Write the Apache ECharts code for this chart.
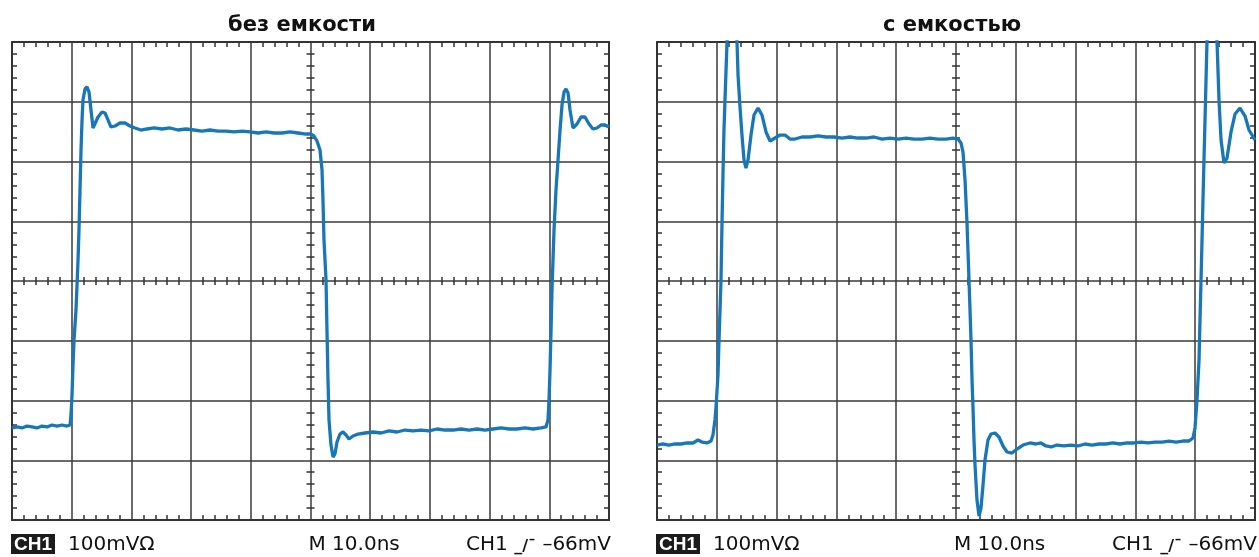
<!DOCTYPE html>
<html><head><meta charset="utf-8">
<script src="https://cdn.jsdelivr.net/npm/echarts@6/dist/echarts.min.js"></script>
<style>html,body{margin:0;padding:0;background:#fff}#c{width:1259px;height:557px}</style>
</head><body><div id="c"></div>
<script>
// ---- labels ----
const panelTitles = ['без емкости', 'с емкостью'];
const chBadge = 'CH1';
const scaleLabel = '100mVΩ';
const timeLabel = 'M 10.0ns';
const trigSource = 'CH1';
const trigLevel = '–66mV';

// ---- axes (ns, mV) ----
const timeMin = 0, timeMax = 100, timeStep = 10;
const voltMin = -400, voltMax = 400, voltStep = 100;

// ---- left trace: без емкости ----
const leftT = [0,0.84,1.68,2.51,3.35,4.19,5.03,5.86,6.70,7.54,8.38,9.21,9.72,9.88,10.05,10.22,10.39,10.72,10.89,11.06,11.22,11.39,11.56,11.73,11.89,12.23,12.56,12.90,13.23,13.57,13.90,14.41,15.08,15.58,16.08,16.58,17.25,18.09,18.93,19.76,20.60,21.61,22.61,23.79,25.13,26.47,27.81,29.15,30.49,31.83,33.17,34.51,35.85,37.19,38.53,39.87,41.21,42.55,43.89,45.23,46.57,47.91,49.25,50.08,50.59,51.09,51.59,51.93,52.09,52.26,52.60,52.76,52.93,53.10,53.43,53.77,54.10,54.44,54.94,55.44,55.95,56.45,57.12,57.96,59.13,60.47,61.81,63.15,64.49,65.83,67.17,68.51,69.85,71.19,72.53,73.87,75.21,76.55,77.89,79.23,80.57,81.91,83.25,84.59,85.93,87.27,88.61,89.45,89.78,89.95,90.12,90.29,90.45,90.62,90.79,91.12,91.46,91.80,92.13,92.47,92.80,93.14,93.47,93.97,94.64,95.31,95.98,96.65,97.32,97.99,98.66,99.33,100];
const leftV = [-246.0,-244.3,-246.0,-242.7,-244.3,-246.0,-242.7,-244.3,-241.0,-242.7,-241.0,-242.7,-241.0,-224.3,-190.8,-140.6,-98.7,-48.5,-6.7,35.1,85.4,152.3,219.2,269.5,303.0,321.3,324.7,316.3,286.2,256.1,259.4,274.5,282.8,281.2,269.5,257.7,259.4,264.4,264.4,259.4,256.1,252.7,254.4,256.1,254.4,256.1,252.7,254.4,252.7,251.0,252.7,251.0,251.0,249.4,251.0,249.4,247.7,249.4,247.7,247.7,249.4,247.7,246.0,246.0,242.7,234.3,219.2,185.8,135.6,68.6,1.7,-82.0,-165.7,-232.6,-274.5,-294.6,-289.5,-269.4,-256.1,-252.7,-257.7,-264.4,-259.4,-256.1,-254.4,-252.7,-254.4,-251.0,-252.7,-249.4,-251.0,-249.4,-251.0,-247.7,-249.4,-249.4,-247.7,-249.4,-247.7,-249.4,-247.7,-246.0,-247.7,-247.7,-246.0,-247.7,-246.0,-244.3,-232.6,-199.2,-148.9,-82.0,-15.1,35.1,85.4,152.3,202.5,252.7,294.6,316.3,321.3,314.6,286.2,256.1,262.8,274.5,274.5,262.8,254.4,256.1,261.1,261.1,257.7];

// ---- right trace: с емкостью ----
const rightT = [0,1.00,2.01,3.01,4.01,5.02,6.02,6.86,7.53,8.36,9.03,9.36,9.70,9.87,10.20,10.37,10.54,10.70,10.87,11.04,11.20,11.37,11.71,12.04,12.54,13.04,13.38,13.55,13.88,14.21,14.55,14.88,15.22,15.72,16.22,16.89,17.56,18.23,18.90,19.73,20.57,21.41,22.24,23.08,24.25,25.59,26.92,28.26,29.60,30.94,32.27,33.61,34.95,36.29,37.63,38.96,40.30,41.64,42.98,44.31,45.65,46.99,48.33,49.50,50.33,50.84,51.17,51.51,51.84,52.18,52.51,52.68,52.84,53.01,53.18,53.51,53.85,54.18,54.52,54.85,55.35,55.85,56.52,57.19,57.86,58.53,59.36,60.20,61.20,62.37,63.38,64.21,65.05,65.89,66.89,68.06,69.23,70.40,71.57,72.74,73.91,75.08,76.25,77.42,78.60,79.77,80.94,82.11,83.28,84.45,85.62,86.79,87.96,88.96,89.63,89.97,90.30,90.64,90.80,90.97,91.14,91.30,91.47,91.64,91.81,91.97,92.31,92.81,93.31,93.65,93.98,94.32,94.82,95.32,95.99,96.66,97.49,98.33,99.00,100];
const rightV = [-274.5,-272.8,-274.5,-272.8,-272.8,-271.1,-271.1,-266.1,-269.5,-271.1,-267.8,-257.7,-232.6,-210.9,-157.3,-98.7,-48.5,0,97.1,180.7,252.7,302.9,400,478.6,503.8,478.6,400,344.8,291.2,244.3,202.5,189.1,202.5,244.3,277.8,289.5,277.8,249.4,234.3,239.3,244.3,244.3,237.6,237.6,241.0,241.0,242.7,241.0,241.0,239.3,241.0,239.3,239.3,241.0,237.6,239.3,237.6,239.3,237.6,237.6,239.3,237.6,237.6,239.3,237.6,230.9,215.9,169.0,97.1,0,-98.7,-165.7,-210.9,-266.1,-307.9,-366.5,-393.3,-379.9,-341.4,-299.6,-266.1,-256.1,-254.4,-261.1,-276.1,-286.2,-287.9,-281.2,-274.5,-271.1,-272.8,-271.1,-276.1,-277.8,-274.5,-276.1,-274.5,-276.1,-272.8,-274.5,-272.8,-272.8,-271.1,-272.8,-271.1,-271.1,-269.5,-271.1,-269.5,-269.5,-267.8,-269.5,-267.8,-267.8,-262.8,-246.0,-199.2,-132.2,-65.3,0,68.6,135.6,202.5,269.5,336.4,400,478.6,503.8,478.6,400,302.9,236.0,197.5,205.8,249.4,279.5,289.5,276.1,252.7,236.0];

const zip = (a, b) => a.map((v, i) => [v, b[i]]);

const grids = [
  { left: 12, top: 42, width: 597, height: 478 },
  { left: 657, top: 42, width: 598, height: 478 }
];
const frameStyle = { color: '#333333', width: 2 };
const gridStyle = { color: '#3a3a3a', width: 1.5 };
const tickStyle = { color: '#333333', width: 1.5 };

const xAxis = [], yAxis = [];
grids.forEach((g, gi) => {
  const base = { gridIndex: gi, type: 'value', axisLabel: { show: false }, axisTick: { show: false } };
  const xb = Object.assign({}, base, { min: timeMin, max: timeMax, interval: timeStep });
  const yb = Object.assign({}, base, { min: voltMin, max: voltMax, interval: voltStep });
  const minor = (len) => ({ show: true, splitNumber: 5, length: len, lineStyle: tickStyle });
  xAxis.push(Object.assign({}, xb, { position: 'bottom', axisLine: { show: true, onZero: false, lineStyle: frameStyle }, axisTick: { show: false, inside: true }, minorTick: minor(5), splitLine: { show: true, lineStyle: gridStyle } }));
  xAxis.push(Object.assign({}, xb, { position: 'top', axisLine: { show: true, onZero: false, lineStyle: frameStyle }, axisTick: { show: false, inside: true }, minorTick: minor(5), splitLine: { show: false } }));
  xAxis.push(Object.assign({}, xb, { position: 'bottom', offset: -g.height / 2, axisLine: { show: false, onZero: false }, axisTick: { show: false, inside: true }, minorTick: minor(4), splitLine: { show: false } }));
  xAxis.push(Object.assign({}, xb, { position: 'bottom', offset: -g.height / 2, axisLine: { show: false, onZero: false }, axisTick: { show: false, inside: false }, minorTick: minor(4), splitLine: { show: false } }));
  yAxis.push(Object.assign({}, yb, { position: 'left', axisLine: { show: true, onZero: false, lineStyle: frameStyle }, axisTick: { show: false, inside: true }, minorTick: minor(5), splitLine: { show: true, lineStyle: gridStyle } }));
  yAxis.push(Object.assign({}, yb, { position: 'right', axisLine: { show: true, onZero: false, lineStyle: frameStyle }, axisTick: { show: false, inside: true }, minorTick: minor(5), splitLine: { show: false } }));
  yAxis.push(Object.assign({}, yb, { position: 'left', offset: -g.width / 2, axisLine: { show: false, onZero: false }, axisTick: { show: false, inside: true }, minorTick: minor(4), splitLine: { show: false } }));
  yAxis.push(Object.assign({}, yb, { position: 'left', offset: -g.width / 2, axisLine: { show: false, onZero: false }, axisTick: { show: false, inside: false }, minorTick: minor(4), splitLine: { show: false } }));
});

const traceStyle = { color: '#1877b7', width: 3.3 };
const series = [
  { type: 'line', xAxisIndex: 0, yAxisIndex: 0, data: zip(leftT, leftV), showSymbol: false, symbol: 'none', lineStyle: traceStyle, clip: true, z: 5 },
  { type: 'line', xAxisIndex: 4, yAxisIndex: 4, data: zip(rightT, rightV), showSymbol: false, symbol: 'none', lineStyle: traceStyle, clip: true, z: 5 }
];

const titleFont = { fontFamily: 'DejaVu Sans', fontWeight: 'bold', fontSize: 21, color: '#111' };
const lblFont = { fontFamily: 'DejaVu Sans', fontSize: 20, color: '#111', fontWeight: 'normal' };
const badgeRich = { b: { backgroundColor: '#1c1c1c', color: '#fff', fontFamily: 'Liberation Sans', fontWeight: 'bold', fontSize: 19, padding: [1, 3, 0, 3], lineHeight: 18 } };
const trigRich = { s: { fontFamily: 'DejaVu Sans', fontSize: 16, color: '#111', verticalAlign: 'bottom', lineHeight: 18 }, n: Object.assign({}, lblFont, { lineHeight: 20 }) };

const title = [];
const centers = [302, 952];
grids.forEach((g, gi) => {
  title.push({ text: panelTitles[gi], left: centers[gi], top: 15, textAlign: 'center', padding: 0, textStyle: titleFont });
  title.push({ text: '{b|' + chBadge + '}', left: g.left - 1, top: 535, padding: 0, textStyle: { rich: badgeRich } });
  title.push({ text: scaleLabel, left: g.left + 56, top: 535, padding: 0, textStyle: lblFont });
  title.push({ text: timeLabel, left: g.left + g.width / 2 - 2, top: 535, padding: 0, textStyle: lblFont });
  title.push({ text: '{n|' + trigSource + ' }{s|_/¯}{n| ' + trigLevel + '}', left: g.left + g.width + 2, top: 535, textAlign: 'right', padding: 0, textStyle: { rich: trigRich } });
});

const chart = echarts.init(document.getElementById('c'), null, { renderer: 'canvas' });
chart.setOption({
  backgroundColor: '#ffffff',
  animation: false,
  title,
  grid: grids.map(g => Object.assign({ outerBoundsMode: 'none', containLabel: false, show: false }, g)),
  xAxis, yAxis, series
});
</script></body></html>
